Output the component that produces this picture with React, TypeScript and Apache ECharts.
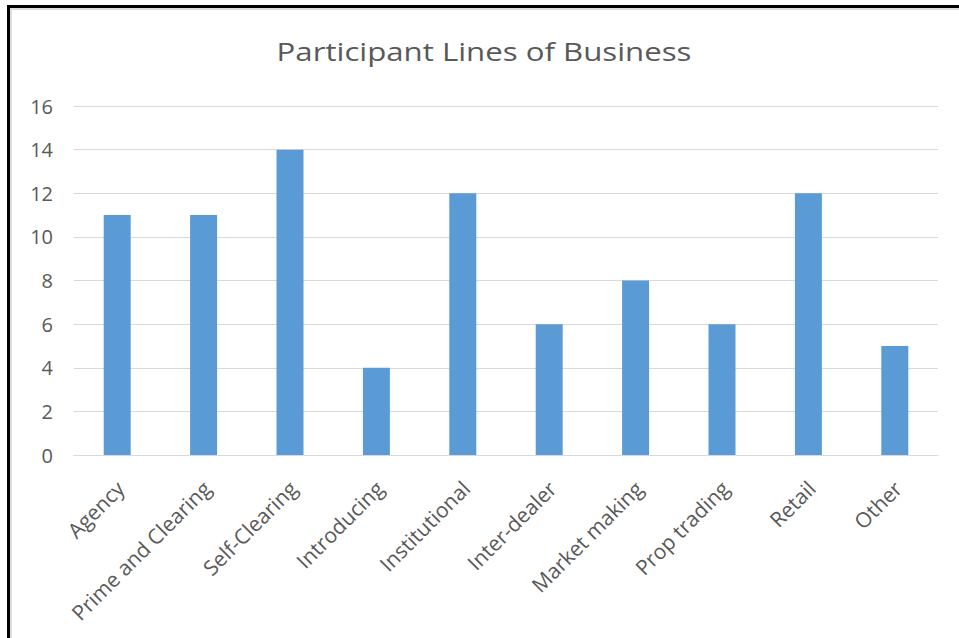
import React, { useEffect, useRef } from "react";
import * as echarts from "echarts";

const categories = [
  "Agency",
  "Prime and Clearing",
  "Self-Clearing",
  "Introducing",
  "Institutional",
  "Inter-dealer",
  "Market making",
  "Prop trading",
  "Retail",
  "Other",
];
const values = [11, 11, 14, 4, 12, 6, 8, 6, 12, 5];
const chartTitle = "Participant Lines of Business";

const FONT = "'Open Sans', Lato, sans-serif";
const TEXT = "#595959";

export default function App() {
  const ref = useRef<HTMLDivElement>(null);
  useEffect(() => {
    if (!ref.current) return;
    const chart = echarts.init(ref.current, undefined, { renderer: "svg" });
    chart.setOption({
      animation: false,
      backgroundColor: "#ffffff",
      graphic: [
        {
          type: "text",
          x: 484,
          y: 51,
          scaleX: 1.2,
          style: {
            text: chartTitle,
            font: "normal 26px " + FONT,
            fill: TEXT,
            textAlign: "center",
            textVerticalAlign: "middle",
          },
        },
      ],
      grid: { left: 74, right: 21, top: 106, bottom: 183 },
      xAxis: {
        type: "category",
        data: categories,
        axisLine: { lineStyle: { color: "#D9D9D9", width: 1 } },
        axisTick: { show: false },
        axisLabel: {
          interval: 0,
          rotate: 45,
          margin: 18,
          align: "right",
          verticalAlign: "top",
          padding: [0, 6, 0, 0],
          fontFamily: FONT,
          fontSize: 21,
          color: TEXT,
        },
      },
      yAxis: {
        type: "value",
        min: 0,
        max: 16,
        interval: 2,
        axisLine: { show: false },
        axisTick: { show: false },
        splitLine: { lineStyle: { color: "#D9D9D9", width: 1 } },
        axisLabel: { margin: 21, fontFamily: FONT, fontSize: 20, color: TEXT },
      },
      series: [
        {
          type: "bar",
          data: values,
          barWidth: 27,
          itemStyle: { color: "#5B9BD5" },
        },
      ],
    });
    return () => chart.dispose();
  }, []);
  return (
    <div style={{ position: "fixed", left: 0, top: 0, width: 959, height: 638, background: "#fff", overflow: "hidden" }}>
      <div ref={ref} style={{ position: "absolute", left: 0, top: 0, width: 959, height: 638 }} />
      <div
        style={{
          position: "absolute",
          left: 7,
          top: 5,
          width: 1000,
          height: 700,
          borderLeft: "3px solid #000",
          borderTop: "3px solid #000",
          pointerEvents: "none",
        }}
      />
      <div
        style={{
          position: "absolute",
          left: 10,
          top: 8,
          width: 1000,
          height: 700,
          borderLeft: "2px solid #DDDDDD",
          borderTop: "2px solid #DDDDDD",
          pointerEvents: "none",
        }}
      />
    </div>
  );
}
